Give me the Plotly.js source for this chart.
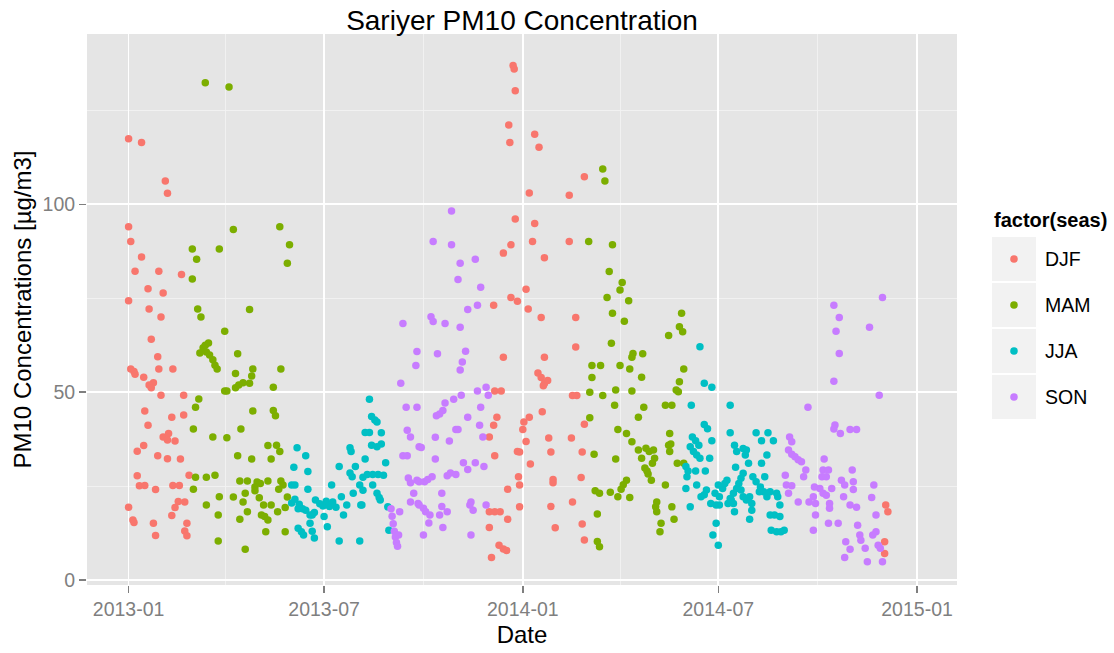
<!DOCTYPE html>
<html>
<head>
<meta charset="utf-8">
<script src="https://cdn.plot.ly/plotly-3.0.1.min.js"></script>
<style>html,body{margin:0;padding:0;background:#fff;}#chart{width:1114px;height:653px;}</style>
</head>
<body>
<div id="chart"></div>
<script>
// Each pair: [days since 2013-01-01, PM10 concentration in µg/m3]
const djf = [
[0,117.4],[12,116.4],[34,106.2],[36,102.9],[0,94.0],[2,90.1],[12,86.0],[6,82.2],[28,82.2],[49,81.3],[18,77.5],[32,76.4],[0,74.3],[19,72.1],[30,70.0],[21,64.1],[27,59.4],[28,56.2],[41,56.2],[2,56.2],[5,55.5],[6,54.8],[14,54.0],[23,52.5],[19,51.9],[21,51.2],[30,49.2],[51,49.2],[15,45.0],[40,43.3],[51,43.9],[18,41.2],[32,38.1],[37,39.0],[36,37.3],[43,37.0],[14,35.8],[8,34.3],[27,33.1],[36,32.3],[48,32.2],[8,27.8],[56,27.9],[10,25.1],[15,25.2],[25,24.1],[41,25.2],[47,25.2],[0,19.4],[4,16.0],[5,15.3],[23,15.1],[25,11.9],[40,17.2],[43,19.3],[46,20.9],[52,20.8],[54,15.1],[52,13.1],[54,11.8],
[356,136.9],[357,136.0],[358,130.2],[352,121.1],[353,116.4],[358,96.1],[354,89.2],[347,87.0],[354,75.2],[360,74.2],[338,73.1],[347,59.3],[339,50.3],[345,50.3],[341,43.3],[338,41.2],[334,38.1],[339,33.1],[360,34.2],[361,27.5],[362,25.3],[351,24.2],[334,18.2],[339,18.2],[344,18.2],[351,16.2],[334,14.0],[343,9.3],[347,8.3],[350,7.9],[336,6.0],[362,19.5],
[376,118.6],[380,115.2],[422,107.3],[371,103.0],[408,102.4],[376,94.9],[374,90.1],[408,90.1],[385,85.8],[368,77.4],[370,72.1],[382,69.9],[414,69.9],[414,62.0],[385,59.3],[379,55.1],[382,53.9],[385,52.3],[388,53.1],[384,51.7],[411,49.1],[415,49.1],[383,44.8],[366,42.1],[371,43.3],[365,40.1],[368,36.9],[389,37.8],[410,37.8],[422,41.5],[362,34.1],[391,34.1],[420,34.1],[372,30.9],[393,26.8],[393,25.9],[419,27.3],[391,19.6],[411,20.8],[395,13.9],[420,14.9],[422,10.7],
[701,20.0],[703,18.2],[700,10.2],[700,7.1]
];
const mam = [
[71,132.3],[59,88.1],[63,85.4],[59,80.1],[64,72.1],[67,70.0],[66,60.4],[69,61.8],[71,62.5],[74,63.1],[72,60.7],[75,59.9],[78,58.6],[80,57.2],[82,56.2],[84,88.1],[65,48.2],[62,46.0],[60,40.2],[78,38.1],[62,27.4],[72,27.4],[80,27.9],[60,24.2],[72,20.0],[83,17.3],[83,10.4],[84,22.2],
[93,131.2],[97,93.3],[140,94.0],[149,89.2],[147,84.3],[112,72.0],[89,66.2],[101,60.2],[115,56.2],[141,56.2],[99,55.0],[114,54.3],[112,52.4],[106,52.5],[102,51.9],[99,51.2],[89,50.3],[91,50.3],[134,51.3],[115,45.0],[134,45.1],[136,43.7],[104,40.2],[91,37.9],[129,35.8],[137,35.9],[140,34.2],[101,33.1],[114,32.2],[132,32.2],[103,26.4],[110,26.4],[119,26.1],[117,24.8],[122,25.7],[129,26.4],[141,26.4],[139,24.2],[143,25.3],[117,23.8],[108,23.1],[97,22.1],[121,21.9],[106,20.8],[147,22.1],[125,20.0],[132,20.0],[110,18.2],[123,17.3],[126,16.9],[129,16.0],[138,18.2],[145,19.3],[103,16.2],[127,12.9],[145,12.9],[108,8.2],
[439,109.4],[441,106.2],[426,90.1],[445,82.1],[443,75.2],[429,57.1],[437,57.1],[429,53.9],[427,50.0],[439,49.1],[427,43.2],[431,33.5],[432,23.8],[436,23.1],[434,17.6],[434,10.3],[436,8.9],
[448,89.2],[457,79.2],[455,77.2],[463,74.3],[448,71.0],[459,68.9],[447,63.0],[467,60.3],[466,59.3],[476,60.2],[455,57.1],[464,56.2],[475,54.0],[466,50.3],[451,50.6],[450,46.5],[477,46.0],[472,43.3],[453,40.1],[461,39.0],[466,36.8],[451,32.2],
[472,34.6],[475,32.4],[479,35.1],[482,34.2],[486,34.6],[487,32.4],[485,31.1],[500,35.9],[502,36.2],[501,34.2],[508,31.1],[514,31.1],[478,29.8],[481,28.2],[484,26.6],[480,29.0],[461,26.6],[458,25.4],[456,24.2],[453,22.2],[446,23.4],[464,22.0],[497,25.3],[489,20.8],[488,19.5],[489,18.2],[503,19.5],[493,15.1],[492,12.9],[505,16.2],
[512,71.0],[510,67.4],[513,66.1],[500,65.1],[514,56.2],[510,52.8],[507,50.6],[509,50.1],[497,46.5],[503,46.5],[501,39.0]
];
const jja = [
[156,35.2],[164,33.1],[153,30.0],[166,28.9],[151,25.3],[154,25.3],[166,24.2],[151,20.5],[154,21.5],[158,20.2],[161,19.0],[164,18.6],[157,19.0],[173,21.3],[172,18.0],[170,17.3],[157,13.8],[160,12.9],[162,12.0],[168,15.1],[170,13.0],[172,11.2],[168,17.3],
[223,48.1],[225,43.5],[228,42.6],[230,42.1],[219,39.3],[223,39.3],[234,39.2],[225,35.9],[230,35.5],[234,36.2],[205,35.2],[206,34.2],[219,32.2],[238,31.2],[195,30.2],[210,30.2],[205,28.5],[207,27.5],[217,27.4],[221,28.1],[226,28.1],[231,28.1],[236,27.9],[188,25.3],[214,25.3],[217,23.9],[226,25.3],[208,23.1],[230,23.1],[232,22.0],[233,21.3],[197,22.2],[177,20.3],[180,19.7],[183,21.0],[186,19.6],[189,20.8],[192,19.4],[202,20.0],[215,20.0],[216,20.0],[199,17.3],[181,16.9],[184,14.2],[195,10.4],[214,10.4],[240,19.5],[241,13.3],
[529,62.1],[533,52.4],[540,51.3],[521,46.5],[533,41.4],[536,40.3],[540,37.1],[522,38.1],[525,37.1],[528,35.9],[520,35.5],[523,34.2],[526,33.3],[529,32.4],[538,32.4],[516,30.2],[518,29.0],[517,27.5],[525,29.0],[534,29.0],[516,24.4],[526,25.3],[535,24.0],[533,22.7],[530,22.2],[539,20.4],[544,20.0],[546,25.3],[520,19.5],[544,15.1],[541,12.0],[546,9.3],
[557,46.5],[557,39.2],[561,35.9],[563,34.2],[569,35.0],[572,34.6],[571,33.3],[581,39.2],[592,39.2],[586,37.1],[597,37.1],[591,33.3],[586,31.1],[574,31.1],[562,30.0],
[578,27.5],[581,26.2],[585,24.8],[588,23.5],[591,22.2],[589,27.5],[569,28.4],[567,27.1],[565,25.7],[563,24.4],[560,23.1],[557,21.7],
[552,25.7],[554,26.6],[550,24.4],[547,22.2],[543,23.1],[547,20.0],[555,20.4],[558,21.3],[560,20.4],[561,18.2],
[567,24.0],[569,22.2],[572,21.3],[575,22.2],[577,20.4],[577,18.6],[575,16.2],[584,23.5],[594,23.5],[600,23.1],[601,22.2],[603,20.0],[594,17.3],[598,17.3],[603,16.9],[595,13.3],[600,12.9],[604,12.9],[607,13.3]
];
const son = [
[254,68.3],[267,60.8],[266,57.1],[252,52.4],[257,46.0],[267,46.0],[258,39.9],[261,38.1],[254,33.1],[258,33.1],[269,35.5],[259,27.2],[261,25.9],[267,26.6],[264,23.1],[261,20.8],[268,20.4],[251,18.2],[243,19.0],[244,17.0],[245,15.0],[246,13.0],[247,11.5],[248,10.0],[249,9.0],[250,12.0],
[299,98.2],[282,90.1],[299,89.2],[307,84.3],[321,85.4],[305,80.0],[326,77.9],[314,72.0],[323,73.1],[280,70.1],[282,68.8],[293,68.3],[307,67.3],[286,60.2],[312,60.9],[309,58.0],[307,55.9],[293,47.1],[291,45.1],[288,44.2],[285,43.7],[301,48.1],[308,49.2],[323,50.3],[331,51.3],[333,49.2],[326,46.0],[314,43.3],[303,40.1],[305,40.1],[325,41.2],[328,38.1],[284,38.0],[297,37.0],[271,35.3],[284,32.2],[310,31.2],[314,29.4],[321,31.2],[329,30.2],[269,26.2],[274,26.2],[277,26.8],[281,27.5],[295,27.8],[298,28.5],[303,28.1],[290,23.1],[269,20.0],[273,19.1],[275,18.2],[279,17.3],[278,15.2],[290,19.6],[288,17.3],[295,18.2],[317,20.8],[319,18.6],[316,20.0],[331,20.0],[273,12.0],[291,14.0],[317,12.0],
[629,46.0],[612,38.1],[614,36.8],[611,34.6],[614,33.5],[617,32.8],[620,32.0],[623,31.5],[627,29.3],[625,27.5],[608,27.9],[609,25.3],[614,25.1],[611,23.1],[620,20.8],[630,20.8],[635,24.8],[634,22.2],[636,20.4],[636,17.3],[634,13.3],
[653,73.1],[658,69.9],[655,66.2],[658,60.3],[653,52.9],[698,75.2],[686,67.3],[695,49.2],[654,41.3],[653,40.2],[659,39.0],[668,40.1],[674,40.1],[644,32.2],[643,29.3],[642,27.5],[646,27.5],[648,29.3],[670,29.3],[660,26.6],[663,25.3],[671,26.2],[671,24.1],[690,25.3],[640,24.4],[643,23.1],[646,22.6],[649,20.4],[649,19.1],[651,24.4],[662,22.2],[668,20.0],[674,19.4],[648,15.1],[657,15.1],[675,14.6],[677,12.0],[688,22.0],[692,17.3],[692,12.9],[689,12.0],[664,10.2],[668,8.2],[663,6.0],[678,10.6],[682,8.5],[684,4.9],[694,9.3],[696,8.5],[698,4.9]
];
const seasonNames = ['DJF','MAM','JJA','SON'];
const seasonData = [djf, mam, jja, son];
const seasonColors = ['#F8766D','#7CAE00','#00BFC4','#C77CFF'];
const yTickVals = [0, 50, 100];
const xTickLabels = ['2013-01','2013-07','2014-01','2014-07','2015-01'];

const BASE = Date.UTC(2013,0,1);
function dayToDate(d){
  return new Date(BASE + d*86400000).toISOString().replace('T',' ').replace('Z','');
}

const FONT = 'Liberation Sans, Arial, Helvetica, sans-serif';
const traces = seasonData.map((arr,i)=>({
  type:'scatter', mode:'markers', name:seasonNames[i],
  x: arr.map(p=>dayToDate(p[0])),
  y: arr.map(p=>p[1]),
  marker:{color:seasonColors[i], size:7.5, line:{width:0}},
  showlegend:false,
  hoverinfo:'x+y'
}));

// layout geometry (pixels)
const L=87, R=157, T=34, B=68, WW=1114, HH=653;
const PW = WW-L-R, PH = HH-T-B;
const px = p => (p-L)/PW;
const py = p => (HH-B-p)/PH;

const shapes = [], annotations = [];
annotations.push({xref:'paper',yref:'paper',x:px(992),y:py(220),xanchor:'left',yanchor:'middle',
  text:'<b>factor(seas)</b>',showarrow:false,font:{family:FONT,size:20,color:'#000'}});
seasonNames.forEach((n,k)=>{
  const top = 237 + 46*k;
  shapes.push({type:'rect',xref:'paper',yref:'paper',x0:px(992),x1:px(1036),y0:py(top+44),y1:py(top),
    fillcolor:'#F2F2F2',line:{width:0},layer:'above'});
  shapes.push({type:'circle',xref:'paper',yref:'paper',xsizemode:'pixel',ysizemode:'pixel',
    xanchor:px(1014),yanchor:py(top+22),x0:-3.8,x1:3.8,y0:-3.8,y1:3.8,
    fillcolor:seasonColors[k],line:{width:0},layer:'above'});
  annotations.push({xref:'paper',yref:'paper',x:px(1043),y:py(top+22),xanchor:'left',yanchor:'middle',
    text:n,showarrow:false,font:{family:FONT,size:19.5,color:'#000'}});
});

const layout = {
  width:WW, height:HH,
  margin:{l:L,r:R,t:T,b:B,pad:0},
  paper_bgcolor:'#FFFFFF', plot_bgcolor:'#E5E5E5',
  font:{family:FONT,color:'#000'},
  title:{text:'Sariyer PM10 Concentration',font:{family:FONT,size:28,color:'#000'},
    x:0.5,xref:'paper',xanchor:'center',y:1-20/HH,yref:'container',yanchor:'middle'},
  showlegend:false,
  xaxis:{
    type:'date', range:[dayToDate(-38.5), dayToDate(767)],
    tickmode:'array',
    tickvals:xTickLabels.map(s=>s+'-01'),
    ticktext:xTickLabels,
    ticks:'outside', ticklen:7, tickwidth:1.5, tickcolor:'#7F7F7F',
    tickfont:{family:FONT,size:19.5,color:'#7F7F7F'},
    showgrid:true, gridcolor:'#FFFFFF', gridwidth:1.8,
    minor:{tickmode:'array', tickvals:['2013-04-01','2013-10-01','2014-04-01','2014-10-01'],
      showgrid:true, gridcolor:'#F2F2F2', gridwidth:0.9, ticks:''},
    zeroline:false, showline:false,
    title:{text:'Date', font:{family:FONT,size:24,color:'#000'}, standoff:6}
  },
  yaxis:{
    range:[-1.3,145.3],
    tickmode:'array', tickvals:yTickVals, ticktext:yTickVals.map(String),
    ticks:'outside', ticklen:7, tickwidth:1.5, tickcolor:'#7F7F7F',
    tickfont:{family:FONT,size:19.5,color:'#7F7F7F'},
    showgrid:true, gridcolor:'#FFFFFF', gridwidth:1.8,
    minor:{tickmode:'array', tickvals:[25,75,125], showgrid:true, gridcolor:'#F2F2F2', gridwidth:0.9, ticks:''},
    zeroline:false, showline:false,
    title:{text:'PM10 Concentrations [µg/m3]', font:{family:FONT,size:24,color:'#000'}, standoff:4}
  },
  shapes:shapes, annotations:annotations
};

Plotly.newPlot('chart', traces, layout, {displayModeBar:false, staticPlot:true});
</script>
</body>
</html>
